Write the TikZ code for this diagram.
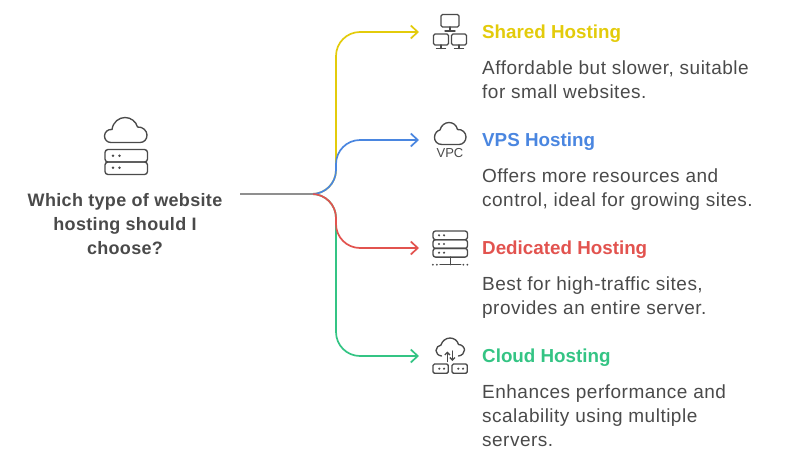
\documentclass[tikz,border=0pt]{standalone}
\usepackage{fontspec}
\usepackage{xcolor}
\usetikzlibrary{arrows.meta}
\setmainfont{Liberation Sans}
\definecolor{sharedcol}{HTML}{E3CB0B}
\definecolor{vpscol}{HTML}{4A86E0}
\definecolor{dedicatedcol}{HTML}{E2534F}
\definecolor{cloudcol}{HTML}{34C484}
\definecolor{inkcol}{HTML}{4A4A4A}
\definecolor{stemcol}{HTML}{8F8F8F}

\begin{document}
\begin{tikzpicture}[x=1pt,y=-1pt,
    link/.style={line width=1.7pt, rounded corners=24pt, -{Straight Barb[length=7pt,width=13pt]}},
    icon/.style={draw=inkcol, line width=1.35pt, line cap=round, line join=round},
    dot/.style={fill=inkcol, draw=none},
    title/.style={anchor=base west, inner sep=0pt, font=\fontsize{18.8}{24}\selectfont\bfseries},
    blurb/.style={anchor=base west, inner sep=0pt, align=left, text=inkcol, font=\fontsize{19}{24}\selectfont\addfontfeature{LetterSpace=2.6}}]
\useasboundingbox (0,0) rectangle (792,466);

% Question
\node[inner sep=0pt, align=center, text=inkcol, font=\fontsize{18}{24}\selectfont\bfseries\addfontfeature{LetterSpace=1.8}] (question) at (125,224) {Which type of website\\hosting should I\\choose?};
\coordinate (root) at (240,194);
\coordinate (stem) at (313,194);
\coordinate (bend) at (336,194);

% Question icon
\draw[icon] (111,142.5) .. controls (107,142.5) and (104.5,139.5) .. (104.5,136) .. controls (104.5,132) and (108,129) .. (112,129.5) .. controls (113,122) and (119,117.5) .. (125,117.5) .. controls (131,117.5) and (136,121.5) .. (137.5,127) .. controls (143,126.5) and (147,131) .. (147,135) .. controls (147,139.5) and (144,142.5) .. (140,142.5) -- cycle;
\draw[icon, rounded corners=3pt] (105,149.5) rectangle (147.5,162);
\draw[icon, rounded corners=3pt] (105,162) rectangle (147.5,174.5);
\foreach \x in {113,119.5} {
    \fill[dot] (\x,155.7) circle (1.4pt);
    \fill[dot] (\x,167.7) circle (1.4pt);
}

% Shared Hosting
\node[title, text=sharedcol] (shared) at (482,38.5) {Shared Hosting};
\node[blurb] (sharedtext) at (482,98.5) {Affordable but slower, suitable\\for small websites.};
\coordinate (sharedtip) at (419,32);
\draw[icon, rounded corners=1.5pt] (441,14.5) rectangle (459,27);
\draw[icon] (450,27) -- (450,31);
\draw[icon] (445,31) -- (455,31);
\foreach \x in {441,459} {
    \draw[icon, rounded corners=1.5pt] (\x-7.5,34) rectangle (\x+7.5,45);
    \draw[icon] (\x,45) -- (\x,48.5);
    \draw[icon] (\x-4.5,48.5) -- (\x+4.5,48.5);
}

% VPS Hosting
\node[title, text=vpscol] (vps) at (482,146.5) {VPS Hosting};
\node[blurb] (vpstext) at (482,206.5) {Offers more resources and\\control, ideal for growing sites.};
\coordinate (vpstip) at (419,140);
\draw[icon] (442,144.5) .. controls (437,144.5) and (434.5,141) .. (434.5,137.5) .. controls (434.5,133) and (437.5,130.5) .. (440,130) .. controls (441,125.5) and (445,122.5) .. (449,122.5) .. controls (453,122.5) and (456.5,125) .. (457.5,129.5) .. controls (462,129) and (466,132.5) .. (466,137) .. controls (466,141) and (463,144.5) .. (459,144.5) -- cycle;
\node[inner sep=0pt, text=inkcol, font=\fontsize{13}{13}\selectfont] (vpc) at (450,152.8) {VPC};

% Dedicated Hosting
\node[title, text=dedicatedcol] (dedicated) at (482,254.5) {Dedicated Hosting};
\node[blurb] (dedicatedtext) at (482,314.5) {Best for high-traffic sites,\\provides an entire server.};
\coordinate (dedicatedtip) at (419,248);
\foreach \y in {231,239.7,248.4} {
    \draw[icon, rounded corners=2.5pt] (433,\y) rectangle (467.5,\y+8.7);
    \fill[dot] (439,\y+4.3) circle (1.2pt);
    \fill[dot] (444,\y+4.3) circle (1.2pt);
}
\draw[icon] (450.5,257) -- (450.5,264.7);
\draw[icon] (440,264.7) -- (460.7,264.7);
\foreach \x in {432.8,436.8,463.4,467.4} {
    \fill[dot] (\x,264.7) circle (1pt);
}

% Cloud Hosting
\node[title, text=cloudcol] (cloud) at (482,362.5) {Cloud Hosting};
\node[blurb] (cloudtext) at (482,446.5) {Enhances performance and\\scalability using multiple\\servers.};
\coordinate (cloudtip) at (419,356);
\draw[icon] (441.5,356) .. controls (438,355.5) and (436,353) .. (436,350.5) .. controls (436,347.5) and (438.5,345.5) .. (441,345) .. controls (442,341) and (446,338) .. (450,338) .. controls (454,338) and (457.5,340.5) .. (458.5,344.5) .. controls (462,344.5) and (464.5,347.5) .. (464.5,350) .. controls (464.5,353) and (462,355.5) .. (458.5,356);
\draw[icon, -{Straight Barb[length=2.5pt,width=5pt]}] (447.3,361.5) -- (447.3,351.5);
\draw[icon, -{Straight Barb[length=2.5pt,width=5pt]}] (452.4,351) -- (452.4,361);
\foreach \x in {433,452} {
    \draw[icon, rounded corners=1.5pt] (\x,364) rectangle (\x+15.3,373.3);
    \fill[dot] (\x+6.3,368.7) circle (1.2pt);
    \fill[dot] (\x+11,368.7) circle (1.2pt);
}

% Connectors
\draw[link, sharedcol] (root) -- (bend) |- (sharedtip);
\draw[link, cloudcol] (root) -- (bend) |- (cloudtip);
\draw[link, vpscol] (root) -- (bend) |- (vpstip);
\draw[link, dedicatedcol] (root) -- (bend) |- (dedicatedtip);
\draw[line width=1.7pt, stemcol] (root) -- (stem);
\end{tikzpicture}
\end{document}
